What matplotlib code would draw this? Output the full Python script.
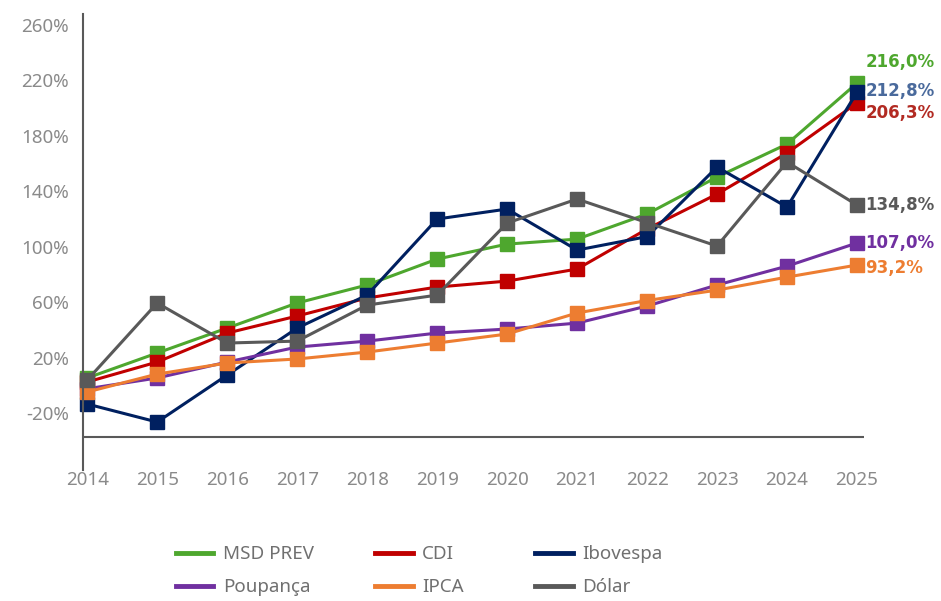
import matplotlib
matplotlib.use("Agg")
import matplotlib.pyplot as plt

plt.rcParams['font.family'] = ['Noto Sans', 'DejaVu Sans']

# Dados (rentabilidade acumulada, %)
anos = [2014, 2015, 2016, 2017, 2018, 2019, 2020, 2021, 2022, 2023, 2024, 2025]
msd_prev = [5.3, 23.3, 41.3, 59.4, 72.4, 91.1, 101.9, 105.5, 123.6, 150.3, 174.1, 218.1]
cdi = [2.4, 16.8, 37.7, 50.0, 63.0, 70.9, 75.2, 83.9, 112.8, 138.0, 167.6, 203.8]
ibovespa = [-13.5, -26.5, 7.4, 41.3, 65.1, 120.0, 127.2, 97.6, 107.3, 157.5, 128.6, 211.6]
poupanca = [-2.5, 5.3, 16.8, 27.6, 31.9, 37.7, 40.6, 44.9, 57.2, 72.4, 86.0, 102.7]
ipca = [-4.8, 8.1, 16.1, 19.0, 24.0, 30.5, 37.0, 52.2, 61.2, 68.7, 78.1, 86.8]
dolar = [3.8, 59.4, 30.5, 31.9, 57.9, 65.1, 117.1, 134.4, 117.4, 100.5, 161.1, 130.1]

nomes = ['MSD PREV', 'CDI', 'Ibovespa', 'Poupança', 'IPCA', 'Dólar']
series = [msd_prev, cdi, ibovespa, poupanca, ipca, dolar]
cores = ['#4EA72E', '#C00000', '#002060', '#7030A0', '#ED7D31', '#595959']

# rótulos finais
rotulos_finais = ['216,0%', '206,3%', '212,8%', '107,0%', '93,2%', '134,8%']
cores_rotulos = ['#4EA72E', '#B22A22', '#4A6A9C', '#7030A0', '#ED7D31', '#595959']
dy_rotulos = [15, -7, 1, 0, -2, 0]

yticks = [-20, 20, 60, 100, 140, 180, 220, 260]

fig = plt.figure(figsize=(9.41, 6.01), dpi=100)
ax = fig.add_axes([0.0882, 0.218, 0.830, 0.7586])

linhas = []
for nome, s, c in zip(nomes, series, cores):
    ln, = ax.plot(anos, s, color=c, lw=2.2, marker='s', markersize=9.5,
                  label=nome, clip_on=False)
    linhas.append(ln)

for s, txt, c, dy in zip(series, rotulos_finais, cores_rotulos, dy_rotulos):
    ax.annotate(txt, (anos[-1], s[-1]), xytext=(6, dy), textcoords='offset points',
                va='center', ha='left', color=c, fontsize=12, fontweight='bold',
                family='DejaVu Sans')

ax.set_xlim(2013.94, 2025.1)
ax.set_ylim(-61.1, 267.9)
ax.axhline(-37.1, color='#595959', lw=1.5, zorder=0)

ax.set_xticks(anos)
ax.set_xticklabels([str(a) for a in anos])
ax.set_yticks(yticks)
ax.set_yticklabels([f'{v}%' for v in yticks])
ax.tick_params(axis='both', length=0, colors='#8A8A8A', labelsize=13.5)
ax.tick_params(axis='y', pad=10)
ax.tick_params(axis='x', pad=1)

for sp in ['top', 'right', 'bottom']:
    ax.spines[sp].set_visible(False)
ax.spines['left'].set_color('#595959')
ax.spines['left'].set_linewidth(1.5)

# legenda em três colunas
colunas = [(0, 3), (1, 4), (2, 5)]
posx = [0.187, 0.399, 0.569]
for (i, j), x in zip(colunas, posx):
    leg = fig.legend([linhas[i], linhas[j]], [nomes[i], nomes[j]], loc='upper left',
                     bbox_to_anchor=(x, 0.093), frameon=False,
                     handlelength=2.0, handletextpad=0.5, labelspacing=0.8,
                     borderaxespad=0, borderpad=0, labelcolor='#707070',
                     prop={'size': 13.5})
    for h in leg.legend_handles:
        h.set_marker('')
        h.set_linewidth(3.5)

fig.savefig('out.png', dpi=100)
